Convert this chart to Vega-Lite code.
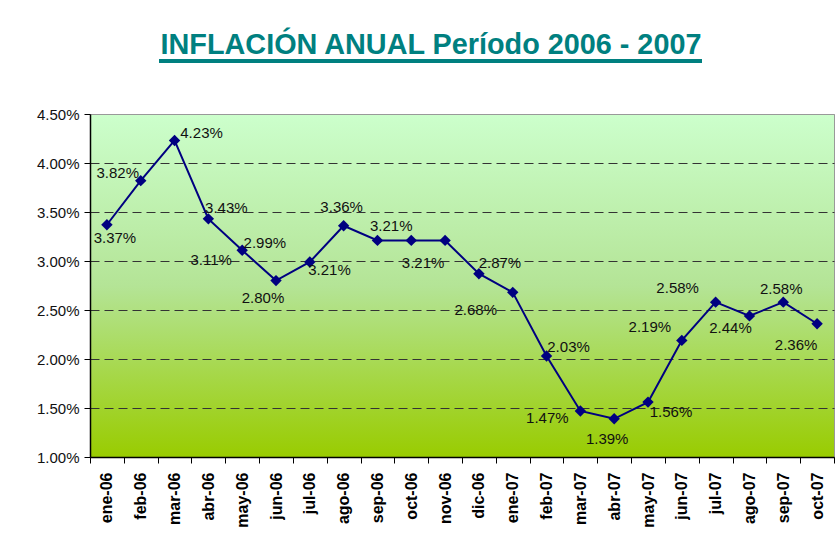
{
  "$schema": "https://vega.github.io/schema/vega-lite/v6.json",
  "width": 744,
  "height": 343,
  "autosize": {"type": "none"},
  "padding": {"left": 90, "top": 114, "right": 6, "bottom": 87},
  "background": "white",
  "title": {
    "text": "INFLACIÓN ANUAL Período 2006 - 2007",
    "font": "Liberation Sans",
    "fontSize": 28.8,
    "fontWeight": "bold",
    "color": "#008080",
    "anchor": "middle",
    "frame": "group",
    "dx": -31,
    "dy": 25,
    "offset": 2,
    "baseline": "alphabetic"
  },
  "config": {
    "view": {
      "stroke": "#999999",
      "fill": {
        "gradient": "linear",
        "x1": 0, "y1": 0, "x2": 0, "y2": 1,
        "stops": [
          {"offset": 0, "color": "#CCFFCC"},
          {"offset": 0.5, "color": "#B4E496"},
          {"offset": 1, "color": "#99CC00"}
        ]
      }
    }
  },
  "data": {
    "values": [
      {"mes": "ene-06", "valor": 0.0337},
      {"mes": "feb-06", "valor": 0.0382},
      {"mes": "mar-06", "valor": 0.0423},
      {"mes": "abr-06", "valor": 0.0343},
      {"mes": "may-06", "valor": 0.0311},
      {"mes": "jun-06", "valor": 0.0280},
      {"mes": "jul-06", "valor": 0.0299},
      {"mes": "ago-06", "valor": 0.0336},
      {"mes": "sep-06", "valor": 0.0321},
      {"mes": "oct-06", "valor": 0.0321},
      {"mes": "nov-06", "valor": 0.0321},
      {"mes": "dic-06", "valor": 0.0287},
      {"mes": "ene-07", "valor": 0.0268},
      {"mes": "feb-07", "valor": 0.0203},
      {"mes": "mar-07", "valor": 0.0147},
      {"mes": "abr-07", "valor": 0.0139},
      {"mes": "may-07", "valor": 0.0156},
      {"mes": "jun-07", "valor": 0.0219},
      {"mes": "jul-07", "valor": 0.0258},
      {"mes": "ago-07", "valor": 0.0244},
      {"mes": "sep-07", "valor": 0.0258},
      {"mes": "oct-07", "valor": 0.0236}
    ]
  },
  "encoding": {
    "x": {
      "field": "mes",
      "type": "nominal",
      "sort": null,
      "scale": {
        "type": "band",
        "paddingInner": 0,
        "paddingOuter": 0,
        "domain": ["ene-06", "feb-06", "mar-06", "abr-06", "may-06", "jun-06", "jul-06", "ago-06", "sep-06", "oct-06", "nov-06", "dic-06", "ene-07", "feb-07", "mar-07", "abr-07", "may-07", "jun-07", "jul-07", "ago-07", "sep-07", "oct-07"]
      },
      "axis": {
        "title": null,
        "labelAngle": -90,
        "labelAlign": "right",
        "labelBaseline": "middle",
        "labelFont": "Liberation Sans",
        "labelFontSize": 16,
        "labelFontWeight": "bold",
        "labelColor": "black",
        "labelPadding": 9,
        "tickBand": "extent",
        "tickSize": 6,
        "tickColor": "black",
        "domainColor": "black",
        "domainWidth": 1.5,
        "grid": false
      }
    },
    "y": {
      "field": "valor",
      "type": "quantitative",
      "scale": {"domain": [0.01, 0.045], "nice": false, "zero": false},
      "axis": {
        "title": null,
        "format": ".2%",
        "values": [0.01, 0.015, 0.02, 0.025, 0.03, 0.035, 0.04, 0.045],
        "labelFont": "Liberation Sans",
        "labelFontSize": 15,
        "labelColor": "#111111",
        "labelPadding": 5,
        "tickSize": 6,
        "tickColor": "black",
        "domainColor": "black",
        "domainWidth": 1.5,
        "grid": true,
        "gridColor": {"condition": {"test": "datum.value >= 0.0449", "value": "#999999"}, "value": "#333333"},
        "gridDash": {"condition": {"test": "datum.value >= 0.0449 || datum.value <= 0.0101", "value": []}, "value": [9, 5]},
        "gridWidth": 1.2
      }
    }
  },
  "layer": [
    {
      "mark": {"type": "line", "color": "#000080", "strokeWidth": 2}
    },
    {
      "mark": {"type": "point", "shape": "diamond", "filled": true, "color": "#000080", "size": 130, "opacity": 1}
    },
    {
      "mark": {
        "type": "text",
        "font": "Liberation Sans",
        "fontSize": 15,
        "color": "#111111",
        "align": "center",
        "baseline": "middle",
        "dx": {"expr": "{'ene-06':8,'feb-06':-23,'mar-06':27,'abr-06':18,'may-06':-31,'jun-06':-13,'jul-06':-45,'ago-06':-2,'sep-06':-48,'oct-06':-20,'nov-06':-22,'dic-06':21,'ene-07':-37,'feb-07':22,'mar-07':-33,'abr-07':-7,'may-07':23,'jun-07':-32,'jul-07':-38,'ago-07':-19,'sep-07':-2,'oct-07':-21}[datum.mes]"},
        "dy": {"expr": "{'ene-06':13,'feb-06':-8,'mar-06':-7,'abr-06':-11,'may-06':10,'jun-06':17,'jul-06':-19,'ago-06':-19,'sep-06':30,'oct-06':-14,'nov-06':23,'dic-06':-11,'ene-07':18,'feb-07':-9,'mar-07':7,'abr-07':20,'may-07':10,'jun-07':-13,'jul-07':-14,'ago-07':12,'sep-07':-13,'oct-07':21}[datum.mes]"}
      },
      "encoding": {
        "text": {"field": "valor", "type": "quantitative", "format": ".2%"}
      }
    },
    {
      "mark": {"type": "rule", "color": "#008080", "strokeWidth": 3},
      "encoding": {
        "x": {"datum": "mar-06", "bandPosition": 0.06},
        "x2": {"datum": "jul-07", "bandPosition": 0.09},
        "y": {"datum": 0.0504}
      }
    }
  ]
}
